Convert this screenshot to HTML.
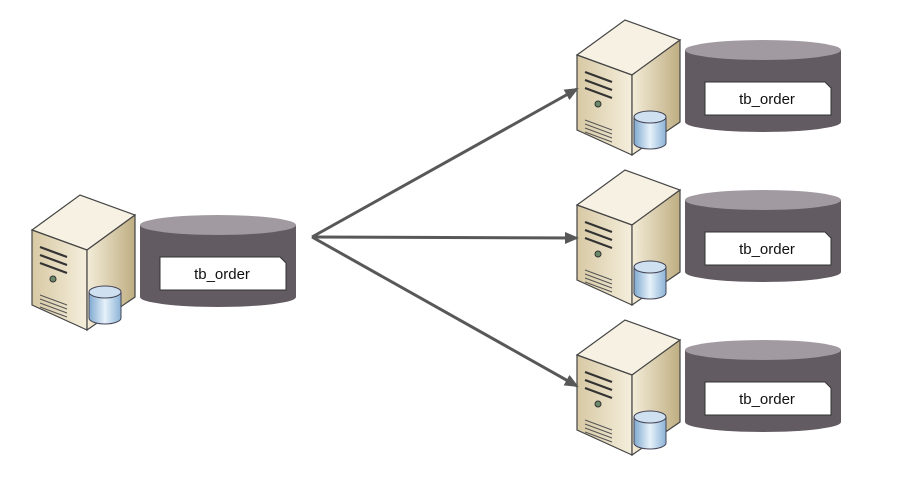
<!DOCTYPE html>
<html><head><meta charset="utf-8"><style>html,body{margin:0;padding:0;background:#fff;width:913px;height:488px;overflow:hidden}</style></head>
<body>
<svg width="913" height="488" viewBox="0 0 913 488" xmlns="http://www.w3.org/2000/svg">
<defs>
<linearGradient id="fr" x1="0" x2="1" y1="0" y2="0"><stop offset="0" stop-color="#d8c9a4"/><stop offset="1" stop-color="#f4eedc"/></linearGradient>
<linearGradient id="sd" x1="0" x2="1" y1="0" y2="0"><stop offset="0" stop-color="#f3ecd8"/><stop offset="1" stop-color="#bfae82"/></linearGradient>
<linearGradient id="bl" x1="0" x2="1"><stop offset="0" stop-color="#7fa9cf"/><stop offset="0.5" stop-color="#e6f1fa"/><stop offset="1" stop-color="#8bb3d6"/></linearGradient>
<marker id="ah" markerWidth="14" markerHeight="12" refX="12" refY="6" orient="auto" markerUnits="userSpaceOnUse"><path d="M0,0 L14,6 L0,12 Z" fill="#585858"/></marker>
<g id="unit">
  <path d="M685,50 L685,122 A78,10 0 0 0 841,122 L841,50 Z" fill="#625b62"/>
  <ellipse cx="763" cy="50" rx="78" ry="10" fill="#a19aa1"/>
  <path d="M705,82 L825,82 L831,88 L831,115 L705,115 Z" fill="#fff" stroke="#333" stroke-width="1"/>
  <text x="767" y="104" font-family="'Liberation Sans',sans-serif" font-size="15" text-anchor="middle" fill="#111">tb_order</text>
  <path d="M577,55 L625,20 L680,40 L632,75 Z" fill="#f6f1e2" stroke="#444" stroke-width="1.2"/>
  <path d="M577,55 L632,75 L632,155 L577,130 Z" fill="url(#fr)" stroke="#444" stroke-width="1.2"/>
  <path d="M632,75 L680,40 L680,122 L632,155 Z" fill="url(#sd)" stroke="#444" stroke-width="1.2"/>
  <path d="M585,72 L612,82 M585,80 L612,90 M585,88 L612,98" stroke="#333" stroke-width="2.2"/>
  <circle cx="598" cy="104" r="3" fill="#6a8a6a" stroke="#333"/>
  <path d="M585,120 L612,130 M585,124 L612,134 M585,128 L612,138 M585,132 L612,142" stroke="#555" stroke-width="1"/>
  <path d="M634,117 L634,143 A16,6 0 0 0 666,143 L666,117 Z" fill="url(#bl)" stroke="#445" stroke-width="1"/>
  <ellipse cx="650" cy="117" rx="16" ry="6" fill="#cfe1f0" stroke="#445" stroke-width="1"/>
</g>
</defs>
<use href="#unit"/>
<use href="#unit" transform="translate(0,150)"/>
<use href="#unit" transform="translate(0,300)"/>
<use href="#unit" transform="translate(-545,175)"/>
<g stroke="#585858" stroke-width="3" fill="none">
<line x1="312" y1="237" x2="577" y2="89" marker-end="url(#ah)"/>
<line x1="312" y1="237" x2="577" y2="238" marker-end="url(#ah)"/>
<line x1="312" y1="237" x2="577" y2="386" marker-end="url(#ah)"/>
</g>
</svg>
</body></html>
